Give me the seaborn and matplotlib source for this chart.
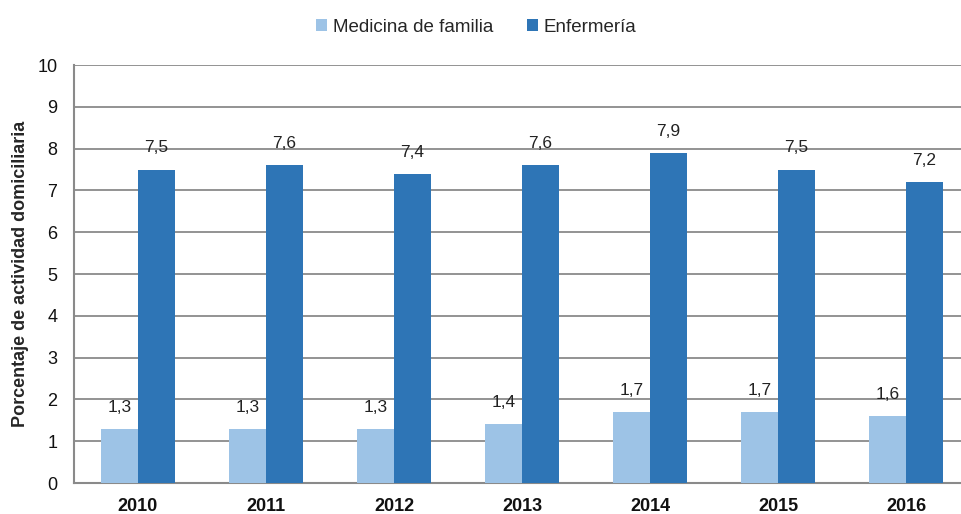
import matplotlib
matplotlib.use('Agg')
import matplotlib.pyplot as plt
import pandas as pd
import seaborn as sns

years = ['2010', '2011', '2012', '2013', '2014', '2015', '2016']
medicina = [1.3, 1.3, 1.3, 1.4, 1.7, 1.7, 1.6]
enfermeria = [7.5, 7.6, 7.4, 7.6, 7.9, 7.5, 7.2]
series_names = ['Medicina de familia', 'Enfermería']
colors = ['#9DC3E6', '#2E75B6']

df = pd.DataFrame({
    'year': years * 2,
    'value': medicina + enfermeria,
    'serie': [series_names[0]] * len(years) + [series_names[1]] * len(years),
})

sns.set_style('white')
plt.rcParams['font.family'] = ['Liberation Sans', 'DejaVu Sans']

fig = plt.figure(figsize=(9.61, 5.14), dpi=100)
ax = fig.add_axes([0.077, 0.0603, 0.923, 0.8132])

sns.barplot(data=df, x='year', y='value', hue='serie', palette=colors,
            width=0.575, gap=0, saturation=1, linewidth=0, ax=ax, zorder=3)

# value labels with comma decimal
for cont in ax.containers:
    for bar in cont:
        h = bar.get_height()
        ax.annotate(f'{h:.1f}'.replace('.', ','),
                    (bar.get_x() + bar.get_width() / 2, h),
                    xytext=(0, 15.5), textcoords='offset points',
                    ha='center', va='center', fontsize=12.5, color='#222222',
                    zorder=4)

ax.set_ylim(0, 10)
ax.set_yticks(range(0, 11))
ax.set_xlim(-0.5, 6.43)
ax.grid(axis='y', color='#8a8a8a', linewidth=1.3, zorder=0)
ax.set_axisbelow(True)

for s in ['top', 'right']:
    ax.spines[s].set_visible(False)
for s in ['left', 'bottom']:
    ax.spines[s].set_color('#8a8a8a')
    ax.spines[s].set_linewidth(1.5)

ax.tick_params(axis='y', length=0, pad=12, labelsize=13, labelcolor='#111111')
ax.tick_params(axis='x', length=0, pad=11, labelsize=13, labelcolor='#111111')
for lbl in ax.get_xticklabels():
    lbl.set_fontweight('bold')

ax.set_xlabel('')
ax.set_ylabel('Porcentaje de actividad domiciliaria', fontsize=13,
              fontweight='bold', labelpad=6)

handles, labels = ax.get_legend_handles_labels()
ax.legend(handles, labels, loc='center', bbox_to_anchor=(0.4535, 1.09),
          ncol=2, frameon=False, fontsize=13.5, handlelength=0.6,
          handleheight=0.6, handletextpad=0.3, columnspacing=1.8)

fig.savefig('out.png', dpi=100)
